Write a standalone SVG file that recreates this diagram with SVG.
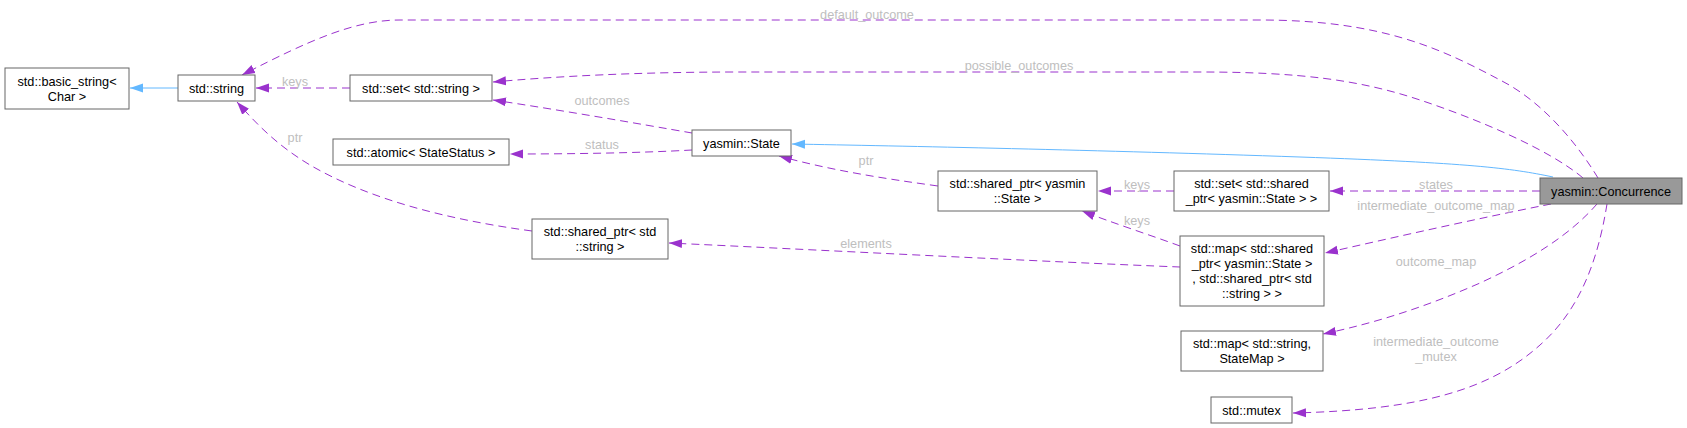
<svg xmlns="http://www.w3.org/2000/svg" width="1687" height="428" viewBox="0 0 1687 428">
<style>
.n rect{fill:#ffffff;stroke:#666666;stroke-width:1}
.n.hl rect{fill:#999999}
.n text{font-family:"Liberation Sans",Arial,sans-serif;font-size:12.7px;fill:#000000;text-anchor:middle}
.e path{fill:none;stroke:#9a32cd;stroke-width:1;stroke-dasharray:8,5;marker-end:url(#ap)}
.e path.inh{stroke:#63b8ff;stroke-dasharray:none;marker-end:url(#ab)}
.e text{font-family:"Liberation Sans",Arial,sans-serif;font-size:12.7px;fill:#bebebe;text-anchor:middle}
</style>
<defs>
<marker id="ap" viewBox="0 0 13 10" refX="13" refY="5" markerWidth="13" markerHeight="10" markerUnits="userSpaceOnUse" orient="auto">
<path d="M0,0.5 L13,5 L0,9.5 z" fill="#9a32cd"/>
</marker>
<marker id="ab" viewBox="0 0 13 10" refX="13" refY="5" markerWidth="13" markerHeight="10" markerUnits="userSpaceOnUse" orient="auto">
<path d="M0,0.5 L13,5 L0,9.5 z" fill="#63b8ff"/>
</marker>
</defs>
<rect x="0" y="0" width="1687" height="428" fill="#ffffff"/>
<g id="edges" class="e">
<path class="inh" d="M178,88 L130,88"/>
<path d="M350,88 L256,88"/>
<text x="295" y="86">keys</text>
<path d="M532,231 C450,220 370,200 310,165 C280,147 260,128 237,102"/>
<text x="295" y="142">ptr</text>
<path d="M1598,178 C1575,140 1540,100 1500,80 C1440,48 1380,20 1260,20 L400,20 C355,20 310,40 242,75"/>
<text x="867" y="18.5">default_outcome</text>
<path d="M1583,178 C1550,150 1480,120 1420,100 C1360,80 1300,72 1200,72 L740,72 C640,72 560,76 493,82"/>
<text x="1019" y="70">possible_outcomes</text>
<path d="M692,133 C640,124 560,110 493,100"/>
<text x="602" y="105">outcomes</text>
<path d="M692,150 C640,153 570,154 510,154"/>
<text x="602" y="149">status</text>
<path class="inh" d="M1553,177 C1510,168 1470,163 1300,157 C1100,150 900,146 792,144"/>
<path d="M938,186 C880,178 830,170 779,156"/>
<text x="866" y="165">ptr</text>
<path d="M1174,191 L1098,191"/>
<text x="1137" y="188.8">keys</text>
<path d="M1180,246 C1150,235 1110,222 1082,211"/>
<text x="1137" y="224.5">keys</text>
<path d="M1180,267 C1050,262 800,249 669,243"/>
<text x="866" y="247.5">elements</text>
<path d="M1540,191 L1330,191"/>
<text x="1436" y="188.8">states</text>
<path d="M1551,204 C1480,218 1400,236 1325,253"/>
<text x="1436" y="210">intermediate_outcome_map</text>
<path d="M1597,204 C1570,235 1530,260 1480,283 C1430,305 1380,322 1323,334"/>
<text x="1436" y="265.5">outcome_map</text>
<path d="M1607,204 C1598,260 1580,310 1540,345 C1490,390 1420,410 1293,413"/>
<text x="1436" y="346">intermediate_outcome</text>
<text x="1436" y="361">_mutex</text>
</g>
<g id="node_basic_string" class="n">
<rect x="5" y="68" width="124" height="41"/>
<text x="67" y="86.2">std::basic_string&lt;</text>
<text x="67" y="101.2">Char &gt;</text>
</g>
<g id="node_string" class="n">
<rect x="178" y="75" width="77" height="26"/>
<text x="216.5" y="92.5">std::string</text>
</g>
<g id="node_set_string" class="n">
<rect x="350" y="75" width="142" height="26"/>
<text x="421" y="92.5">std::set&lt; std::string &gt;</text>
</g>
<g id="node_atomic" class="n">
<rect x="333" y="139" width="176" height="26"/>
<text x="421" y="156.5">std::atomic&lt; StateStatus &gt;</text>
</g>
<g id="node_state" class="n">
<rect x="692" y="130" width="99" height="26"/>
<text x="741.5" y="147.5">yasmin::State</text>
</g>
<g id="node_shared_ptr_string" class="n">
<rect x="532" y="219" width="136" height="40"/>
<text x="600" y="236">std::shared_ptr&lt; std</text>
<text x="600" y="251">::string &gt;</text>
</g>
<g id="node_shared_ptr_state" class="n">
<rect x="938" y="171" width="159" height="40"/>
<text x="1017.5" y="188">std::shared_ptr&lt; yasmin</text>
<text x="1017.5" y="203">::State &gt;</text>
</g>
<g id="node_set_shared_ptr" class="n">
<rect x="1174" y="171" width="155" height="40"/>
<text x="1251.5" y="188">std::set&lt; std::shared</text>
<text x="1251.5" y="203">_ptr&lt; yasmin::State &gt; &gt;</text>
</g>
<g id="node_map_shared_ptr" class="n">
<rect x="1180" y="236" width="144" height="70"/>
<text x="1252" y="253">std::map&lt; std::shared</text>
<text x="1252" y="268">_ptr&lt; yasmin::State &gt;</text>
<text x="1252" y="283">, std::shared_ptr&lt; std</text>
<text x="1252" y="298">::string &gt; &gt;</text>
</g>
<g id="node_map_string" class="n">
<rect x="1181" y="331" width="142" height="40"/>
<text x="1252" y="348">std::map&lt; std::string,</text>
<text x="1252" y="363">StateMap &gt;</text>
</g>
<g id="node_mutex" class="n">
<rect x="1211" y="397" width="81" height="26"/>
<text x="1251.5" y="414.5">std::mutex</text>
</g>
<g id="node_concurrence" class="n hl">
<rect x="1540" y="178" width="142" height="26"/>
<text x="1611" y="195.5">yasmin::Concurrence</text>
</g>
</svg>
